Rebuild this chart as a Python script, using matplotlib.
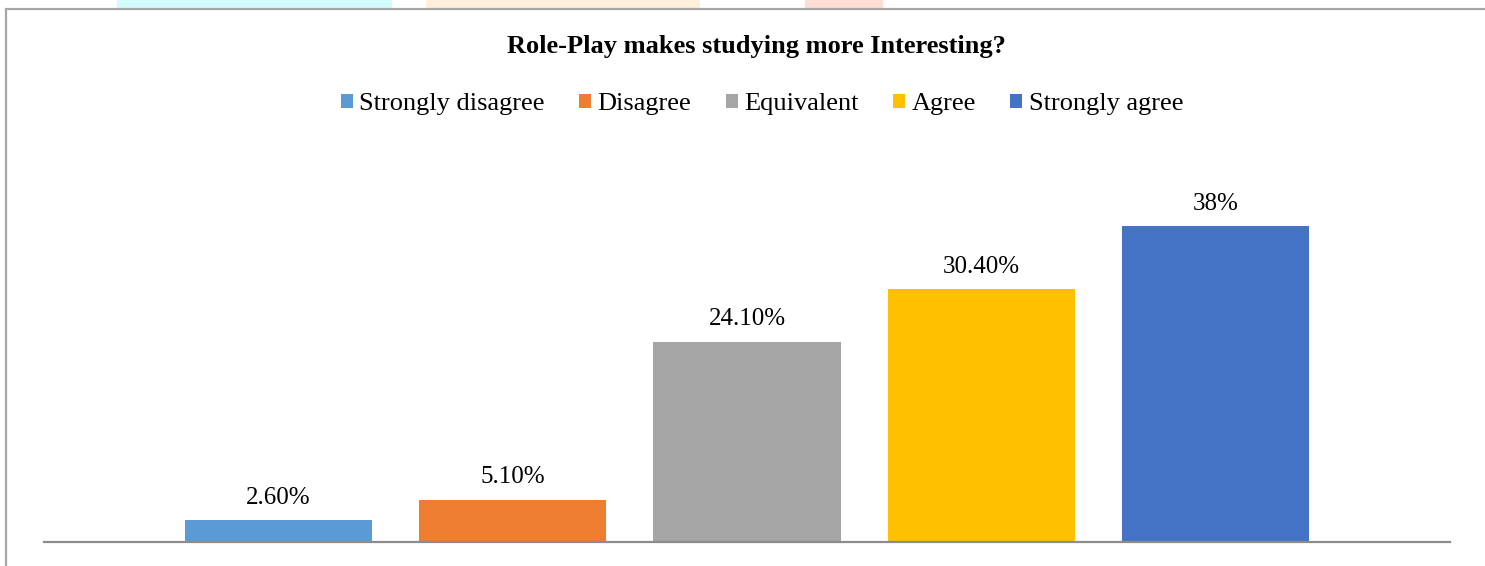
import matplotlib.pyplot as plt
from matplotlib.patches import Patch, Rectangle

categories = ['Strongly disagree', 'Disagree', 'Equivalent', 'Agree', 'Strongly agree']
values = [2.6, 5.1, 24.1, 30.4, 38.0]
value_labels = ['2.60%', '5.10%', '24.10%', '30.40%', '38%']
colors = ['#5B9BD5', '#ED7D31', '#A5A5A5', '#FFC000', '#4472C4']

plt.rcParams['font.family'] = ['Liberation Serif', 'DejaVu Serif']

W, H = 1485, 566
fig = plt.figure(figsize=(W / 100, H / 100), dpi=100)

# faint coloured strips along the very top edge
for x0, x1, c in [(117, 392, '#d2fcfc'), (426, 700, '#fff0dc'), (805, 883, '#ffdcd4')]:
    fig.patches.append(Rectangle((x0 / W, 1 - 8 / H), (x1 - x0) / W, 8 / H,
                                 transform=fig.transFigure, color=c, lw=0, zorder=0))

# chart frame
fig.patches.append(Rectangle((6 / W, -0.1), 1.2, 1.1 - 9 / H, transform=fig.transFigure,
                             fill=False, edgecolor='#a6a6a6', lw=1.6, zorder=1))

ax_bottom = 542
ax_top = 542 - 45 * 316 / 38
ax = fig.add_axes([44 / W, 1 - ax_bottom / H, (1450 - 44) / W, (ax_bottom - ax_top) / H])

x = list(range(len(categories)))
bars = ax.bar(x, values, width=0.8, color=colors, zorder=2)
for xi, v, lab in zip(x, values, value_labels):
    ax.annotate(lab, (xi, v), xytext=(0, 8), textcoords='offset points',
                ha='center', va='bottom', fontsize=18)

ax.set_xlim(-1, 5)
ax.set_ylim(0, 45)
ax.set_xticks([])
ax.set_yticks([])
for s in ['top', 'left', 'right']:
    ax.spines[s].set_visible(False)
ax.spines['bottom'].set_color('#8c8c8c')
ax.spines['bottom'].set_linewidth(1.6)

fig.text(756 / W, 1 - 47 / H, 'Role-Play makes studying more Interesting?',
         ha='center', va='center', fontsize=19, fontweight='bold')

handles = [Patch(facecolor=c, edgecolor='none') for c in colors]
fig.legend(handles, categories, loc='center', bbox_to_anchor=(762 / W, 1 - 104 / H),
           ncol=5, frameon=False, fontsize=19, handlelength=0.45, handleheight=0.45,
           handletextpad=0.25, columnspacing=1.3)

fig.savefig('out.png', dpi=100)
